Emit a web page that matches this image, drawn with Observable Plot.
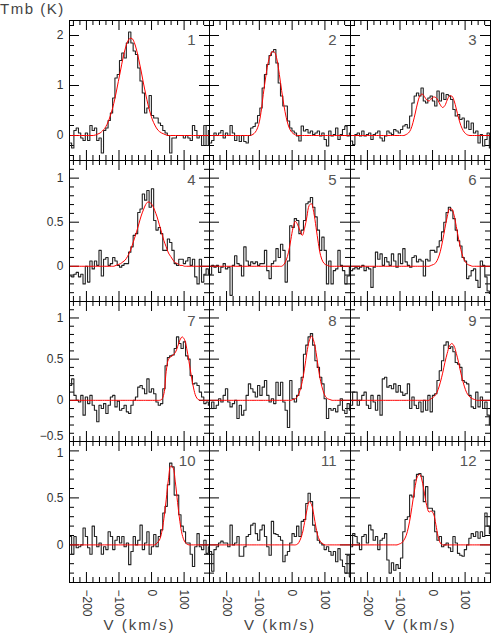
<!DOCTYPE html>
<html><head><meta charset="utf-8">
<script src="https://cdn.jsdelivr.net/npm/d3@7"></script>
<script src="https://cdn.jsdelivr.net/npm/@observablehq/plot@0.6"></script>
<style>
body{margin:0;background:#fff;}
#chart{position:relative;width:491px;height:634px;overflow:hidden;background:#fff;font-family:"Liberation Sans",Arial,sans-serif;}
#chart svg{position:absolute;overflow:visible;}
.ylab{position:absolute;left:0;top:0;font-size:15px;letter-spacing:1.5px;color:#444;line-height:18px;}
</style></head>
<body><div id="chart"><div class="ylab">Tmb (K)</div></div>
<script>
// channel velocities (km/s)
const vel = [-249,-242,-235,-228,-221,-214,-207,-200,-193,-186,-179,-172,-165,-158,-151,-144,-137,-130,-123,-116,-109,-102,-95,-88,-81,-74,-67,-60,-53,-46,-39,-32,-25,-18,-11,-4,3,10,17,24,31,38,45,52,59,66,73,80,87,94,101,108,115,122,129,136,143,150,157,164,171,178];

// observed spectra (Tmb, K)
const tmb1 = [-0.15,-0.25,0.1,0.15,0.05,-0.05,-0.1,0.05,-0.1,0.2, 0.1,0.15,-0.1,-0.05,-0.35,0.1,0.15,0.3,0.45,0.75, 1.15,1.22,1.5,1.65,1.55,1.85,2.07,1.85,1.69,1.62, 1.35,1.09,0.85,0.45,0.55,0.8,0.4,0.35,0.35,0.25, 0.2,0.1,0.05,0.0,-0.35,-0.05,-0.05,0.0,0.0,0.0, -0.05,0.0,-0.05,-0.1,0.2,0.1,-0.05,0.0,-0.2,0.2, -0.2,0.1];
const tmb2 = [-0.15,-0.1,0.05,0.0,0.05,0.1,-0.05,0.05,0.0,0.2, 0.05,-0.1,0.0,-0.12,0.0,-0.12,-0.15,0.0,0.15,0.18, 0.25,0.4,0.55,0.95,1.22,1.42,1.6,1.67,1.72,1.45, 1.05,0.79,0.59,0.59,0.29,0.15,0.09,0.05,-0.01,-0.11, 0.19,0.09,0.12,0.05,0.09,0.02,0.05,0.09,-0.01,0.05, -0.08,-0.21,0.09,-0.01,0.02,0.15,-0.08,0.02,0.12,0.19, -0.01,0.05];
const tmb3 = [-0.11,-0.18,0.02,0.05,-0.01,0.09,-0.01,0.02,0.05,-0.08, 0.02,0.05,0.09,-0.05,-0.11,-0.01,0.09,0.05,0.02,0.12, 0.09,0.05,0.12,0.19,0.22,0.15,0.39,0.65,0.79,0.85, 0.79,0.95,0.69,0.65,0.75,0.79,0.69,0.59,0.89,0.69, 0.85,0.72,0.82,0.79,0.72,0.52,0.39,0.42,0.32,0.35, 0.15,0.29,0.12,0.25,0.05,0.09,-0.15,0.02,-0.21,-0.08, 0.05,-0.25];
const tmb4 = [-0.11,-0.12,-0.09,-0.07,-0.12,-0.09,-0.2,0.0,-0.18,0.06, -0.03,0.06,0.01,0.18,-0.11,0.08,0.1,0.01,0.03,0.1, 0.06,0.01,-0.01,0.01,0.03,0.03,0.16,0.22,0.35,0.37, 0.61,0.65,0.82,0.75,0.86,0.67,0.88,0.52,0.41,0.44, 0.37,0.18,0.18,0.31,0.27,0.18,0.03,0.01,0.08,0.08, 0.03,0.06,0.1,0.01,0.08,-0.12,-0.2,0.08,-0.18,-0.09, -0.03,-0.09];
const tmb5 = [-0.09,0.01,-0.01,0.01,-0.07,-0.01,0.03,-0.03,-0.01,-0.33, 0.01,0.12,0.03,0.01,-0.11,0.22,0.06,0.01,0.05,0.03, 0.05,0.01,0.03,0.03,0.18,-0.05,-0.14,0.03,0.06,0.2, 0.1,0.25,0.18,-0.18,0.06,0.46,0.44,0.54,0.52,0.37, 0.41,0.52,0.71,0.73,0.78,0.67,0.56,0.41,0.18,0.33, 0.18,-0.2,0.06,-0.2,-0.05,-0.03,0.18,0.01,-0.05,-0.2, -0.11,-0.01];
const tmb6 = [-0.05,-0.03,-0.01,-0.03,-0.01,0.01,-0.05,-0.01,-0.03,-0.24, -0.01,0.16,0.08,0.14,0.01,0.1,0.05,0.01,0.14,0.06, -0.01,0.14,0.03,0.2,0.05,0.01,-0.01,0.1,0.12,0.05, 0.08,0.06,-0.11,0.08,0.06,0.18,0.18,0.16,0.22,0.29, 0.39,0.5,0.61,0.67,0.63,0.54,0.41,0.29,0.23,0.1, 0.06,-0.14,-0.11,-0.05,-0.03,-0.16,-0.24,0.06,0.01,-0.12, -0.28,-0.31];
const tmb7 = [0.18,0.26,0.06,0.0,-0.02,0.06,-0.18,0.04,-0.04,0.06, -0.06,-0.12,-0.26,-0.06,-0.1,-0.04,-0.16,-0.06,0.04,0.06, -0.08,-0.01,-0.12,-0.1,-0.06,-0.14,-0.16,-0.06,0.0,0.04, 0.16,0.18,0.14,0.08,0.26,0.1,0.14,0.08,-0.02,-0.06, -0.04,0.14,0.42,0.52,0.54,0.55,0.63,0.77,0.69,0.63, 0.71,0.54,0.5,0.3,0.2,0.21,0.18,0.1,0.04,-0.04, -0.02,-0.06];
const tmb8 = [-0.1,-0.02,-0.1,-0.06,0.02,-0.02,0.06,0.14,-0.02,-0.08, -0.04,0.0,-0.22,-0.06,-0.18,-0.12,0.06,0.2,0.14,0.1, 0.04,0.18,0.06,0.16,0.24,0.06,-0.02,0.02,-0.04,0.22, 0.06,0.22,-0.02,-0.12,-0.33,0.24,0.02,-0.02,0.06,0.14, 0.28,0.56,0.67,0.77,0.81,0.67,0.48,0.4,0.28,0.2, 0.02,-0.22,-0.1,-0.12,-0.1,-0.14,-0.06,0.02,-0.12,-0.16, -0.04,-0.12];
const tmb9 = [-0.06,0.1,0.1,-0.06,0.0,0.06,0.1,-0.06,-0.1,0.06, -0.02,-0.12,0.06,-0.18,0.26,0.28,0.16,0.18,0.14,0.2, 0.1,0.18,0.1,0.06,0.08,0.2,-0.1,0.04,-0.06,-0.1, -0.02,-0.14,0.0,-0.12,0.06,-0.14,0.06,0.08,0.24,0.36, 0.48,0.67,0.71,0.63,0.65,0.59,0.46,0.44,0.4,0.24, 0.22,0.2,0.06,-0.08,-0.1,0.1,-0.08,0.04,-0.1,-0.02, -0.18,-0.3];
const tmb10 = [0.09,-0.1,0.09,-0.03,-0.02,0.0,0.18,0.09,-0.03,-0.1, 0.2,0.09,-0.02,0.02,-0.1,-0.02,-0.05,0.14,0.09,-0.05, 0.05,0.09,0.02,0.09,-0.02,0.02,-0.21,-0.07,0.09,0.0, 0.05,0.21,-0.05,0.02,0.14,-0.1,-0.02,0.11,-0.02,0.09, 0.16,0.34,0.41,0.64,0.87,0.83,0.53,0.53,0.32,0.2, 0.14,0.02,0.02,-0.1,-0.23,-0.02,0.12,-0.02,-0.05,0.05, -0.09,-0.02];
const tmb11 = [-0.07,-0.28,-0.05,-0.02,0.02,0.04,0.02,0.02,-0.02,0.21, 0.0,0.02,0.09,-0.12,-0.12,-0.02,0.09,0.11,0.21,0.23, 0.12,0.05,0.16,0.21,0.09,-0.02,-0.11,0.25,0.12,0.11, 0.09,0.05,-0.18,-0.11,-0.07,0.02,0.12,0.09,0.2,0.09, 0.25,0.27,0.44,0.55,0.46,0.21,0.14,0.05,0.02,0.0, -0.05,-0.02,-0.07,-0.11,-0.07,-0.18,-0.04,-0.16,-0.23,-0.3, -0.11,-0.34];
const tmb12 = [-0.02,0.12,0.09,0.02,-0.05,0.09,0.11,0.02,0.21,0.16, 0.05,0.09,-0.05,0.05,0.07,0.12,-0.16,-0.3,-0.19,-0.27, -0.21,-0.25,-0.14,0.14,0.27,0.3,0.53,0.51,0.69,0.75, 0.76,0.73,0.46,0.62,0.39,0.39,0.36,0.14,0.05,0.09, -0.02,0.0,0.02,-0.03,-0.07,0.09,0.02,-0.09,-0.11,-0.12, -0.05,0.0,0.07,0.12,0.09,0.14,0.07,0.14,0.09,0.34, 0.2,0.12];

// fitted profiles (red), sampled at the same velocities
const fit1 = [0,0,0,0,0,0,0,0,0,0, 0,0.01,0.03,0.05,0.09,0.14,0.22,0.33,0.47,0.64, 0.85,1.08,1.31,1.54,1.73,1.87,1.94,1.94,1.86,1.71, 1.51,1.29,1.05,0.83,0.62,0.45,0.31,0.21,0.13,0.08, 0.05,0.03,0.01,0,0,0,0,0,0,0, 0,0,0,0,0,0,0,0,0,0, 0,0];
const fit2 = [0,0,0,0,0,0,0,0,0,0, 0,0,0,0,0,0,0,0,0.01,0.04, 0.1,0.22,0.46,0.82,1.15,1.43,1.6,1.68,1.66,1.51, 1.22,0.9,0.6,0.36,0.19,0.09,0.04,0.01,0,0, 0,0,0,0,0,0,0,0,0,0, 0,0,0,0,0,0,0,0,0,0, 0,0];
const fit3 = [0,0,0,0,0,0,0,0,0,0, 0,0,0,0,0,0,0,0,0,0, 0,0,0,0,0.02,0.05,0.12,0.26,0.45,0.65, 0.79,0.83,0.78,0.71,0.69,0.73,0.77,0.76,0.70,0.61, 0.56,0.60,0.71,0.79,0.79,0.70,0.53,0.35,0.20,0.10, 0.04,0.01,0,0,0,0,0,0,0,0, 0,0];
const fit4 = [0,0,0,0,0,0,0,0,0,0, 0,0,0,0,0,0,0,0,0,0, 0.01,0.02,0.03,0.05,0.07,0.11,0.16,0.23,0.31,0.39, 0.48,0.57,0.64,0.70,0.73,0.72,0.69,0.63,0.56,0.47, 0.38,0.29,0.22,0.15,0.11,0.07,0.04,0.03,0.01,0.01, 0,0,0,0,0,0,0,0,0,0, 0,0];
const fit5 = [0,0,0,0,0,0,0,0,0,0, 0,0,0,0,0,0,0,0,0,0, 0,0,0,0,0,0,0,0,0,0, 0,0,0.02,0.07,0.16,0.30,0.44,0.51,0.47,0.40, 0.35,0.43,0.56,0.69,0.71,0.61,0.44,0.26,0.12,0.05, 0.02,0.01,0,0,0,0,0,0,0,0, 0,0];
const fit6 = [0,0,0,0,0,0,0,0,0,0, 0,0,0,0,0,0,0,0,0,0, 0,0,0,0,0,0,0,0,0,0, 0,0,0,0,0,0.01,0.02,0.04,0.09,0.17, 0.29,0.43,0.56,0.65,0.65,0.58,0.45,0.31,0.19,0.10, 0.05,0.02,0.01,0,0,0,0,0,0,0, 0,0];
const fit7 = [0,0,0,0,0,0,0,0,0,0, 0,0,0,0,0,0,0,0,0,0, 0,0,0,0,0,0,0,0,0,0, 0,0,0,0,0,0,0,0,0,0, 0.01,0.08,0.35,0.5,0.53,0.55,0.58,0.65,0.73,0.77, 0.74,0.63,0.47,0.3,0.15,0.05,0.01,0,0,0, 0,0];
const fit8 = [0,0,0,0,0,0,0,0,0,0, 0,0,0,0,0,0,0,0,0,0, 0,0,0,0,0,0,0,0,0,0, 0,0,0,0,0,0,0.01,0.02,0.05,0.12, 0.23,0.39,0.58,0.72,0.78,0.72,0.58,0.39,0.23,0.12, 0.05,0.02,0.01,0,0,0,0,0,0,0, 0,0];
const fit9 = [0,0,0,0,0,0,0,0,0,0, 0,0,0,0,0,0,0,0,0,0, 0,0,0,0,0,0,0,0,0,0, 0,0,0,0,0,0.02,0.04,0.07,0.13,0.22, 0.33,0.46,0.57,0.66,0.69,0.66,0.57,0.46,0.33,0.22, 0.13,0.07,0.04,0.02,0.01,0,0,0,0,0, 0,0];
const fit10 = [0,0,0,0,0,0,0,0,0,0, 0,0,0,0,0,0,0,0,0,0, 0,0,0,0,0,0,0,0,0,0, 0,0,0,0,0,0,0,0,0.02,0.05, 0.13,0.28,0.48,0.70,0.84,0.82,0.67,0.45,0.25,0.11, 0.04,0.01,0,0,0,0,0,0,0,0, 0,0];
const fit11 = [0,0,0,0,0,0,0,0,0,0, 0,0,0,0,0,0,0,0,0,0, 0,0,0,0,0,0,0,0,0,0, 0,0,0,0,0,0,0,0,0.01,0.05, 0.12,0.24,0.37,0.46,0.43,0.32,0.18,0.08,0.03,0.01, 0,0,0,0,0,0,0,0,0,0, 0,0];
const fit12 = [0,0,0,0,0,0,0,0,0,0, 0,0,0,0,0,0,0,0,0,0, 0,0.01,0.02,0.05,0.10,0.19,0.32,0.48,0.63,0.73, 0.75,0.68,0.55,0.42,0.35,0.36,0.33,0.22,0.09,0.02, 0,0,0,0,0,0,0,0,0,0, 0,0,0,0,0,0,0,0,0,0, 0,0];

const panelLabels = ["1","2","3","4","5","6","7","8","9","10","11","12"];
const xDomain = [-252, 178];
const xMajor = [-200, -100, 0, 100];
const xMinor = [-240,-220,-180,-160,-140,-120,-80,-60,-40,-20,20,40,60,80,120,140,160];
const xTickLabels = [-200, -100, 0, 100];
const yDomains = [[-0.5, 2.3], [-0.4, 1.2], [-0.5, 1.2], [-0.4, 1.1]];
const yMajor = [[0, 1, 2], [0, 0.5, 1], [-0.5, 0, 0.5, 1], [0, 0.5, 1]];
const yMinor = [
  [-0.4,-0.2,0.2,0.4,0.6,0.8,1.2,1.4,1.6,1.8,2.2],
  [-0.3,-0.2,-0.1,0.1,0.2,0.3,0.4,0.6,0.7,0.8,0.9,1.1],
  [-0.4,-0.3,-0.2,-0.1,0.1,0.2,0.3,0.4,0.6,0.7,0.8,0.9,1.1],
  [-0.3,-0.2,-0.1,0.1,0.2,0.3,0.4,0.6,0.7,0.8,0.9]
];
// tick labels: inner ones, plus those sitting at a row boundary (nudged apart)
const yTickLabels = [[0, 1, 2], [0, 0.5, 1], [0, 0.5, 1], [0, 0.5]];
const yLowEdgeLabels = [[], [], [-0.5], []];
const yHighEdgeLabels = [[], [], [], [1]];
const xTitle = "V (km/s)";

const spectra = [tmb1,tmb2,tmb3,tmb4,tmb5,tmb6,tmb7,tmb8,tmb9,tmb10,tmb11,tmb12];
const fits = [fit1,fit2,fit3,fit4,fit5,fit6,fit7,fit8,fit9,fit10,fit11,fit12];

const colEdges = [69, 209, 350, 490];
const rowEdges = [20, 160, 301, 441, 582];
const fmt = d => (d < 0 ? "\u2212" + Math.abs(d) : String(d));

const chart = document.getElementById("chart");
for (let r = 0; r < 4; r++) {
  for (let c = 0; c < 3; c++) {
    const k = r * 3 + c;
    const pw = colEdges[c + 1] - colEdges[c];
    const ph = rowEdges[r + 1] - rowEdges[r];
    const mL = c === 0 ? 69 : 0;
    const mB = r === 3 ? 52 : 0;
    const rows = vel.map((v, i) => ({v, t: spectra[k][i], f: fits[k][i]}));
    const marks = [
      Plot.frame({stroke: "#000"}),
      Plot.tickX(xMajor, {x: d => d, insetTop: ph - 10, stroke: "#000"}),
      Plot.tickX(xMajor, {x: d => d, insetBottom: ph - 10, stroke: "#000"}),
      Plot.tickX(xMinor, {x: d => d, insetTop: ph - 5, stroke: "#000"}),
      Plot.tickX(xMinor, {x: d => d, insetBottom: ph - 5, stroke: "#000"}),
      Plot.tickY(yMajor[r], {y: d => d, insetRight: pw - 10, stroke: "#000"}),
      Plot.tickY(yMajor[r], {y: d => d, insetLeft: pw - 10, stroke: "#000"}),
      Plot.tickY(yMinor[r], {y: d => d, insetRight: pw - 5, stroke: "#000"}),
      Plot.tickY(yMinor[r], {y: d => d, insetLeft: pw - 5, stroke: "#000"}),
      Plot.line(rows, {x: "v", y: "t", curve: "step", stroke: "#222", strokeWidth: 1.1, clip: true}),
      Plot.line(rows, {x: "v", y: "f", curve: "catmull-rom", stroke: "#ff0000", strokeWidth: 1, clip: true}),
      Plot.text([panelLabels[k]], {text: d => d, frameAnchor: "top-right", dx: -14, dy: 20, textAnchor: "end", lineAnchor: "middle", fontSize: 15, fill: "#555"})
    ];
    if (c === 0) {
      marks.push(Plot.axisY(yTickLabels[r], {anchor: "left", tickSize: 0, tickPadding: 6, fontSize: 12, tickFormat: fmt, label: null, fill: "#333"}));
      if (yLowEdgeLabels[r].length) {
        marks.push(Plot.axisY(yLowEdgeLabels[r], {anchor: "left", tickSize: 0, tickPadding: 6, fontSize: 12, tickFormat: fmt, label: null, fill: "#333", dy: -5}));
      }
      if (yHighEdgeLabels[r].length) {
        marks.push(Plot.axisY(yHighEdgeLabels[r], {anchor: "left", tickSize: 0, tickPadding: 6, fontSize: 12, tickFormat: fmt, label: null, fill: "#333", dy: 2}));
      }
    }
    if (r === 3) {
      marks.push(Plot.axisX(xTickLabels, {anchor: "bottom", tickSize: 0, tickRotate: 90, tickPadding: 7, fontSize: 12, tickFormat: fmt, label: null, fill: "#333"}));
      marks.push(Plot.text([xTitle], {text: d => d, frameAnchor: "bottom", dy: 43, lineAnchor: "middle", fontSize: 15, fill: "#444"}));
    }
    const svg = Plot.plot({
      width: mL + pw,
      height: ph + mB,
      marginLeft: mL, marginRight: 0, marginTop: 0, marginBottom: mB,
      x: {domain: xDomain, axis: null},
      y: {domain: yDomains[r], axis: null},
      style: {background: "transparent", overflow: "visible", fontFamily: "Liberation Sans, Arial, sans-serif", fontSize: "12px", color: "#333", maxWidth: "none"},
      marks
    });
    svg.style.left = (colEdges[c] - mL) + "px";
    svg.style.top = rowEdges[r] + "px";
    svg.querySelectorAll("text").forEach(t => { if (t.textContent === xTitle) t.style.letterSpacing = "2px"; });
    chart.appendChild(svg);
  }
}
</script>
</body></html>
